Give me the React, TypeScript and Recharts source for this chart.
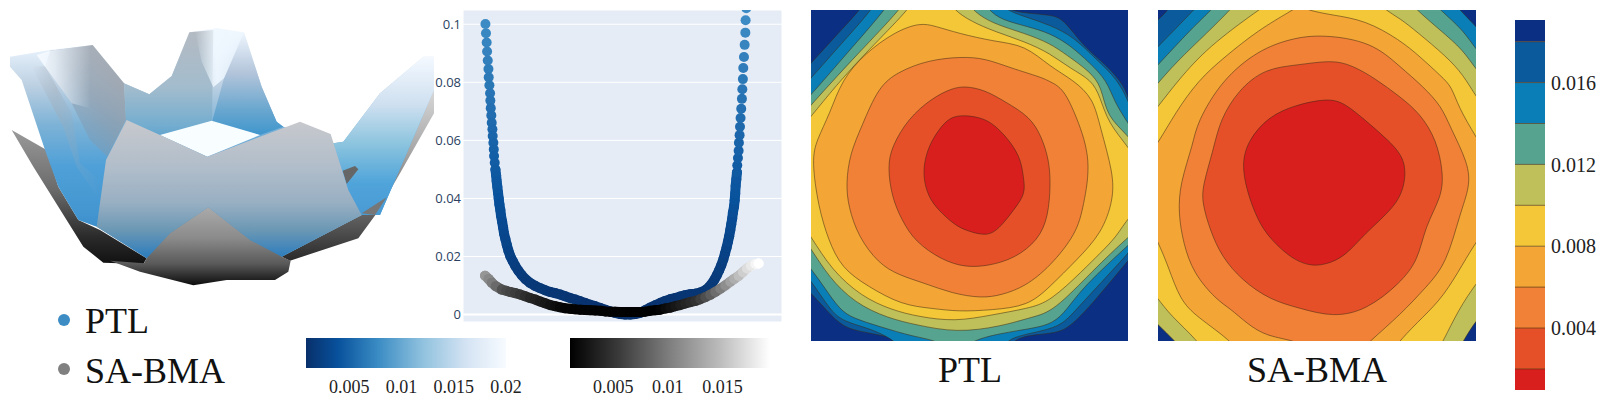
import { Bar, BarChart, CartesianGrid, ReferenceLine, Scatter, ScatterChart, XAxis, YAxis } from 'recharts';

type Pt = [number, number];

// ---- 3d surfaces (unitless view coordinates)
const greyRearLeft: Pt[] = [[35, 390], [140, 450], [175, 560], [235, 660], [300, 690], [440, 775], [430, 792], [310, 788], [250, 740], [175, 620], [100, 500]];
const greyRearRight: Pt[] = [[1302, 270], [1302, 340], [1200, 520], [1130, 640], [1075, 715], [870, 782], [845, 770], [1085, 645], [1140, 600]];
const greyFront: Pt[] = [[625, 622], [750, 720], [845, 770], [872, 782], [865, 815], [825, 840], [680, 840], [580, 856], [420, 815], [330, 782], [432, 790], [440, 775], [510, 700]];
const blueShell: Pt[] = [[30, 170], [150, 150], [278, 135], [372, 250], [448, 283], [515, 228], [568, 97], [650, 85], [732, 97], [785, 260], [830, 365], [850, 380], [1000, 430], [1030, 425], [1140, 280], [1270, 170], [1302, 170], [1302, 270], [1140, 645], [1085, 645], [845, 770], [445, 775], [290, 680], [235, 660], [175, 560], [135, 450], [65, 240], [30, 200]];
const blueWallLeft: Pt[] = [[135, 200], [150, 152], [278, 135], [372, 250], [378, 360], [322, 470], [270, 420], [215, 310]];
const blueGlowLeft: Pt[] = [[110, 165], [150, 152], [278, 135], [290, 330], [215, 310], [135, 200]];
const blueStreak: Pt[] = [[95, 200], [135, 198], [215, 340], [240, 490], [305, 545], [300, 600], [230, 500], [190, 380]];
const blueWallFar: Pt[] = [[372, 250], [448, 283], [515, 228], [568, 97], [640, 90], [636, 365], [480, 405], [330, 470], [378, 360]];
const blueGlowFar: Pt[] = [[585, 94], [650, 85], [732, 97], [700, 170], [672, 235], [640, 262], [605, 185]];
const blueWallRight: Pt[] = [[672, 235], [732, 97], [785, 260], [830, 365], [850, 380], [780, 405], [636, 365]];
const blueWing: Pt[] = [[1030, 425], [1140, 280], [1270, 170], [1302, 170], [1302, 270], [1140, 645], [1085, 645], [1045, 570], [1000, 430]];
const holeTop: Pt[] = [[480, 405], [635, 362], [780, 405], [622, 470]];
const greyPeekA: Pt[] = [[1028, 512], [1065, 498], [1075, 508], [1040, 552]];
const greyPeekB: Pt[] = [[1085, 640], [1160, 592], [1125, 645]];
const frontSheet: Pt[] = [[380, 360], [480, 405], [622, 470], [900, 365], [992, 402], [1045, 570], [1085, 645], [845, 770], [750, 720], [625, 622], [510, 700], [440, 775], [290, 680], [318, 480]];

// ---- slice through the surfaces
const ptlX = [-1.002, -0.998, -0.993, -0.99, -0.985, -0.98, -0.978, -0.973, -0.968, -0.966, -0.963, -0.959, -0.956, -0.951, -0.949, -0.944, -0.941, -0.939, -0.934, -0.929, -0.924, -0.92, -0.915, -0.91, -0.905, -0.9, -0.893, -0.888, -0.88, -0.873, -0.866, -0.856, -0.846, -0.834, -0.82, -0.802, -0.783, -0.761, -0.737, -0.707, -0.676, -0.639, -0.602, -0.566, -0.529, -0.493, -0.456, -0.42, -0.383, -0.346, -0.31, -0.273, -0.237, -0.2, -0.163, -0.127, -0.09, -0.054, -0.017, 0.02, 0.056, 0.093, 0.129, 0.166, 0.202, 0.239, 0.276, 0.312, 0.349, 0.385, 0.422, 0.459, 0.495, 0.532, 0.568, 0.605, 0.629, 0.654, 0.673, 0.69, 0.707, 0.722, 0.737, 0.749, 0.761, 0.771, 0.78, 0.788, 0.795, 0.802, 0.807, 0.815, 0.82, 0.824, 0.827, 0.832, 0.837, 0.839, 0.844, 0.849, 0.851, 0.856, 0.859, 0.863, 0.868, 0.873, 0.876, 0.88, 0.883, 0.888, 0.893, 0.898, 0.9, 0.905];
const ptlY = [0.1001, 0.0969, 0.0937, 0.0906, 0.0875, 0.0846, 0.0817, 0.079, 0.0762, 0.0737, 0.0711, 0.0686, 0.0661, 0.0638, 0.0615, 0.0592, 0.0569, 0.0546, 0.0523, 0.05, 0.048, 0.046, 0.044, 0.042, 0.04, 0.038, 0.036, 0.034, 0.032, 0.03, 0.0279, 0.026, 0.024, 0.022, 0.0201, 0.0184, 0.0167, 0.0151, 0.0136, 0.0121, 0.0109, 0.0099, 0.0091, 0.0084, 0.0078, 0.0074, 0.0069, 0.0063, 0.0057, 0.0052, 0.0046, 0.004, 0.0034, 0.0029, 0.0023, 0.0017, 0.0011, 0.0006, 0.0002, 0, 0, 0.0002, 0.0006, 0.0015, 0.0024, 0.0032, 0.004, 0.0047, 0.0053, 0.0057, 0.0062, 0.0067, 0.007, 0.0072, 0.0076, 0.0084, 0.0093, 0.0107, 0.0121, 0.0136, 0.0153, 0.017, 0.019, 0.021, 0.0231, 0.0251, 0.027, 0.0291, 0.0311, 0.0331, 0.0351, 0.0371, 0.0394, 0.0417, 0.0443, 0.0466, 0.049, 0.0514, 0.0539, 0.0564, 0.0592, 0.0618, 0.0647, 0.0677, 0.0709, 0.0743, 0.0776, 0.0811, 0.0849, 0.0887, 0.0929, 0.0971, 0.1014, 0.1055];
const bmaX = [-1.005, -0.98, -0.956, -0.927, -0.883, -0.851, -0.822, -0.785, -0.749, -0.712, -0.676, -0.639, -0.602, -0.566, -0.529, -0.493, -0.456, -0.42, -0.383, -0.346, -0.31, -0.273, -0.237, -0.2, -0.163, -0.127, -0.09, -0.054, -0.017, 0.02, 0.056, 0.093, 0.129, 0.166, 0.202, 0.239, 0.276, 0.312, 0.349, 0.385, 0.422, 0.459, 0.495, 0.532, 0.568, 0.605, 0.641, 0.678, 0.715, 0.751, 0.788, 0.817, 0.849, 0.88, 0.91, 0.939, 0.971, 0.995];
const bmaY = [0.0134, 0.0123, 0.011, 0.0098, 0.0086, 0.0082, 0.0078, 0.0074, 0.0069, 0.0063, 0.0057, 0.0052, 0.0045, 0.0039, 0.0033, 0.0029, 0.0025, 0.0022, 0.002, 0.0018, 0.0017, 0.0016, 0.0015, 0.0014, 0.0013, 0.0011, 0.001, 0.001, 0.0009, 0.0009, 0.0009, 0.0009, 0.0009, 0.001, 0.0013, 0.0015, 0.0017, 0.0021, 0.0024, 0.0029, 0.0033, 0.0038, 0.0043, 0.0047, 0.0053, 0.006, 0.0068, 0.0078, 0.0089, 0.01, 0.0113, 0.0123, 0.0133, 0.0146, 0.0159, 0.0168, 0.0174, 0.0176];
const sliceYTicks = [0, 0.02, 0.04, 0.06, 0.08, 0.1];
const sliceXTicks = [-1, 0, 1];

// ---- contour outlines, one per level
const ptl018: Pt[] = [[30, 240], [78, 190], [150, 110], [225, 30], [260, -20], [640, -20], [660, 30], [730, 40], [795, 45], [835, 55], [895, 140], [965, 195], [1020, 260], [1030, 300], [1080, 400], [1080, 700], [1050, 760], [1030, 780], [915, 920], [855, 980], [815, 1000], [725, 1005], [685, 1023], [650, 1060], [400, 1060], [375, 1023], [305, 1010], [245, 997], [175, 985], [120, 925], [78, 880], [30, 830]];
const ptl016: Pt[] = [[30, 285], [78, 235], [170, 130], [260, 30], [290, -20], [620, -20], [660, 30], [720, 50], [795, 75], [865, 110], [925, 170], [985, 225], [1020, 280], [1030, 310], [1080, 400], [1080, 700], [1030, 760], [895, 905], [855, 950], [815, 985], [705, 1005], [665, 1023], [640, 1060], [350, 1060], [335, 1023], [255, 985], [175, 965], [135, 930], [78, 840], [30, 790]];
const ptl014: Pt[] = [[30, 335], [78, 285], [190, 155], [300, 30], [330, -20], [580, -20], [610, 30], [650, 60], [730, 80], [795, 100], [855, 135], [915, 190], [965, 240], [990, 310], [1030, 370], [1080, 450], [1080, 690], [1030, 735], [895, 860], [845, 930], [805, 970], [745, 985], [645, 1000], [555, 1023], [530, 1060], [490, 1060], [465, 1023], [385, 1010], [285, 980], [205, 955], [165, 930], [120, 865], [78, 805], [30, 750]];
const ptl012: Pt[] = [[30, 370], [78, 315], [200, 180], [345, 30], [375, -20], [530, -20], [560, 30], [620, 70], [720, 100], [795, 130], [845, 165], [915, 215], [950, 260], [965, 350], [1030, 405], [1080, 480], [1080, 670], [1030, 710], [925, 810], [805, 935], [745, 950], [645, 980], [515, 998], [395, 975], [310, 955], [210, 910], [130, 830], [78, 745], [30, 680]];
const ptl010: Pt[] = [[30, 405], [78, 350], [150, 260], [250, 150], [370, 30], [400, -20], [480, -20], [505, 30], [560, 65], [630, 95], [720, 125], [795, 160], [855, 205], [920, 240], [945, 290], [970, 370], [1030, 440], [1080, 520], [1080, 610], [1030, 650], [995, 710], [945, 760], [895, 810], [795, 905], [730, 925], [620, 945], [510, 965], [400, 950], [320, 930], [230, 890], [140, 810], [78, 710], [30, 640]];
const ptl008: Pt[] = [[405, 68], [450, 78], [520, 100], [630, 125], [720, 135], [795, 200], [865, 240], [925, 295], [945, 380], [985, 520], [985, 600], [950, 700], [875, 780], [795, 860], [730, 918], [620, 930], [520, 935], [440, 925], [350, 915], [250, 860], [170, 805], [130, 720], [100, 620], [80, 480], [95, 420], [135, 340], [170, 240], [240, 160], [330, 95]];
const ptl006: Pt[] = [[530, 170], [600, 175], [680, 205], [770, 232], [795, 245], [835, 265], [875, 350], [920, 480], [895, 620], [875, 700], [795, 800], [720, 860], [650, 885], [590, 895], [500, 880], [420, 850], [340, 825], [280, 790], [220, 710], [190, 620], [183, 550], [195, 460], [230, 380], [280, 260], [340, 215], [430, 180]];
const ptl004: Pt[] = [[540, 258], [600, 270], [660, 305], [735, 350], [770, 410], [792, 480], [797, 550], [790, 650], [760, 720], [690, 775], [610, 798], [540, 802], [470, 780], [390, 725], [350, 660], [320, 590], [308, 500], [320, 440], [370, 355], [440, 295], [500, 265]];
const ptl002: Pt[] = [[495, 350], [540, 345], [600, 355], [640, 385], [680, 430], [708, 480], [715, 530], [722, 580], [690, 625], [640, 690], [605, 707], [560, 697], [515, 680], [470, 640], [435, 600], [418, 550], [415, 500], [430, 440], [460, 390]];

const bma018: Pt[] = [[60, 95], [99, 60], [130, 30], [160, -20], [1120, -20], [1120, 1080], [40, 1080], [40, 95]];
const bma016: Pt[] = [[50, 190], [99, 140], [207, 30], [250, -20], [960, -20], [1005, 30], [1053, 80], [1110, 140], [1110, 1080], [40, 1080], [40, 200]];
const bma014: Pt[] = [[50, 245], [99, 195], [200, 85], [260, 30], [300, -20], [900, -20], [945, 30], [1015, 90], [1053, 150], [1110, 210], [1110, 1080], [40, 1080], [40, 255]];
const bma012: Pt[] = [[50, 305], [99, 250], [150, 190], [250, 95], [315, 30], [360, -20], [830, -20], [875, 30], [945, 90], [1015, 150], [1053, 210], [1110, 270], [1110, 900], [1053, 960], [1015, 1023], [985, 1075], [195, 1075], [150, 1023], [100, 975], [50, 925]];
const bma010: Pt[] = [[50, 380], [99, 320], [160, 240], [250, 140], [400, 30], [460, -10], [740, -10], [780, 30], [825, 55], [875, 95], [965, 170], [1015, 225], [1053, 290], [1110, 370], [1110, 780], [1053, 850], [1000, 930], [955, 1023], [925, 1075], [250, 1075], [220, 1023], [135, 945], [99, 895], [50, 840]];
const bma008: Pt[] = [[60, 480], [99, 430], [150, 340], [220, 240], [300, 170], [400, 90], [500, 32], [525, 15], [545, 30], [620, 45], [720, 60], [825, 120], [885, 170], [950, 230], [980, 260], [1000, 320], [1053, 412], [1110, 500], [1110, 650], [1053, 725], [1015, 790], [955, 890], [895, 950], [825, 1020], [790, 1070], [350, 1070], [320, 1023], [215, 950], [165, 900], [130, 800], [99, 725], [60, 650]];
const bma006: Pt[] = [[590, 103], [740, 125], [825, 200], [895, 260], [950, 320], [975, 380], [1030, 490], [1035, 560], [1005, 640], [965, 790], [905, 860], [825, 945], [735, 1023], [700, 1060], [560, 1060], [525, 1023], [425, 1010], [365, 970], [315, 925], [275, 900], [205, 820], [175, 730], [160, 640], [165, 550], [205, 430], [215, 370], [290, 240], [400, 150], [500, 115]];
const bma004: Pt[] = [[620, 180], [680, 195], [750, 235], [825, 290], [885, 340], [935, 420], [955, 520], [950, 590], [900, 680], [880, 780], [825, 850], [725, 930], [625, 952], [525, 925], [435, 900], [350, 840], [290, 770], [255, 690], [232, 610], [232, 560], [265, 450], [285, 360], [340, 270], [420, 205], [520, 195]];
const bma002: Pt[] = [[610, 294], [660, 310], [720, 360], [790, 420], [845, 480], [838, 570], [800, 630], [720, 700], [660, 770], [600, 795], [550, 798], [490, 770], [420, 700], [390, 640], [365, 570], [350, 490], [370, 420], [430, 350], [510, 315]];

const levelColors = ['#0b5a9c', '#0a7eb6', '#56a48f', '#bfc059', '#f3c738', '#f3a536', '#f18136', '#e55029', '#d91e1e'];
const navy = '#0b2f83';
const ptlLevels = [ptl018, ptl016, ptl014, ptl012, ptl010, ptl008, ptl006, ptl004, ptl002];
const bmaLevels = [bma018, bma016, bma014, bma012, bma010, bma008, bma006, bma004, bma002];

// ---- colour bars
const blueTicks = [0.005, 0.01, 0.015, 0.02];
const greyTicks = [0.005, 0.01, 0.015];
const contourTicks = [0.004, 0.008, 0.012, 0.016];
const contourBands = [0.002, 0.002, 0.002, 0.002, 0.002, 0.002, 0.002, 0.002, 0.002, 0.00106];
const contourBandColors = ['#d91e1e', '#e55029', '#f18136', '#f3a536', '#f3c738', '#bfc059', '#56a48f', '#0a7eb6', '#0b5a9c', navy];
const contourLines = [0.002, 0.004, 0.006, 0.008, 0.01, 0.012, 0.014, 0.016, 0.018];

const serif = '"Liberation Serif", serif';
const toPoints = (pts: Pt[]) => pts.map(([x, y]) => ({ x, y }));

const mix = (stops: [number, number[]][], v: number) => {
  let i = 0;
  while (i < stops.length - 2 && v > stops[i + 1][0]) i++;
  const [a, ca] = stops[i];
  const [b, cb] = stops[i + 1];
  const t = Math.min(1, Math.max(0, (v - a) / (b - a)));
  return `rgb(${ca.map((c, k) => Math.round(c + (cb[k] - c) * t)).join(',')})`;
};
// blue goes with the height of the point, grey with its place along the slice
const blueRamp: [number, number[]][] = [[0, [8, 48, 107]], [0.04, [8, 81, 156]], [0.1, [61, 139, 196]]];
const greyRamp: [number, number[]][] = [[-1.005, [150, 150, 150]], [-0.88, [80, 80, 80]], [-0.68, [40, 40, 40]], [-0.43, [5, 5, 5]], [0.25, [0, 0, 0]], [0.54, [50, 50, 50]], [0.74, [136, 136, 136]], [0.91, [221, 221, 221]], [0.995, [255, 255, 255]]];

const BlueDot = (props: any) => <circle cx={props.cx} cy={props.cy} r={5} fill={mix(blueRamp, props.payload.y)} />;
const GreyDot = (props: any) => <circle cx={props.cx} cy={props.cy} r={5} fill={mix(greyRamp, props.payload.x)} />;
const NoDot = () => <g />;

const stopsFor = (id: string, stops: [number, string][], dir = 'v') => {
  const ends: any = {
    v: { x1: 0, y1: 0, x2: 0, y2: 1 },
    h: { x1: 0, y1: 0, x2: 1, y2: 0 },
    d: { x1: 1, y1: 0, x2: 0, y2: 1 },
  };
  return (
    <linearGradient key={id} id={id} {...ends[dir]}>
      {stops.map(([o, c]) => <stop key={o} offset={o} stopColor={c} />)}
    </linearGradient>
  );
};

function PolyChart({ left, top, width, height, xDomain, yDomain, defs, layers }: any) {
  return (
    <div style={{ position: 'absolute', left, top, width, height }}>
      <ScatterChart width={width} height={height} margin={{ top: 0, right: 0, bottom: 0, left: 0 }}>
        {defs && <defs>{defs}</defs>}
        <XAxis type="number" dataKey="x" domain={xDomain} allowDataOverflow hide />
        <YAxis type="number" dataKey="y" domain={yDomain} reversed allowDataOverflow hide />
        {layers.map((l: any, i: number) => (
          <Scatter
            key={i}
            data={toPoints(l.pts)}
            shape={NoDot}
            lineJointType={l.curve}
            line={{ fill: l.fill, stroke: l.stroke ?? 'none', strokeWidth: l.sw ?? 0 }}
            isAnimationActive={false}
          />
        ))}
      </ScatterChart>
    </div>
  );
}

function contourLayers(levels: Pt[][]) {
  return levels.map((pts, i) => ({
    pts,
    curve: 'basisClosed',
    fill: levelColors[i],
    stroke: 'rgba(60,40,20,0.65)',
    sw: 0.8,
  }));
}

const surfaceDefs = [
  stopsFor('gRear', [[0, '#9a9a9a'], [0.45, '#6a6a6a'], [0.8, '#2a2a2a'], [1, '#111']]),
  stopsFor('gRearR', [[0, '#d8d8d8'], [0.4, '#a0a0a0'], [0.8, '#555'], [1, '#2a2a2a']]),
  stopsFor('gFront', [[0, '#aaaaaa'], [0.4, '#8a8a8a'], [0.72, '#5a5a5a'], [1, '#0c0c0c']]),
  stopsFor('bShell', [[0, '#f2f9ff'], [0.1, '#e4effa'], [0.25, '#bcd0e2'], [0.42, '#7db2d6'], [0.6, '#4fa0d8'], [0.8, '#4396d0'], [1, '#2c7fbf']]),
  stopsFor('bWallL', [[0, 'rgba(165,165,170,0.95)'], [0.45, 'rgba(140,155,170,0.7)'], [0.8, 'rgba(120,150,175,0.2)'], [1, 'rgba(120,150,175,0)']], 'd'),
  stopsFor('bGlowL', [[0, 'rgba(244,249,255,1)'], [0.3, 'rgba(244,249,255,0.75)'], [0.9, 'rgba(244,249,255,0)']], 'h'),
  stopsFor('bStreak', [[0, 'rgba(160,165,175,0)'], [0.35, 'rgba(160,170,180,0.4)'], [1, 'rgba(130,170,200,0)']], 'h'),
  stopsFor('bWallF', [[0, '#b4bac2'], [0.45, '#a3bccd'], [0.75, '#74adcf'], [1, '#3f95ce']]),
  stopsFor('bGlow', [[0, 'rgba(240,248,255,0)'], [0.45, 'rgba(240,248,255,0.9)'], [0.75, 'rgba(240,248,255,0.6)'], [1, 'rgba(240,248,255,0)']], 'h'),
  stopsFor('bWallR', [[0, '#eef6fe'], [0.4, '#b2c4da'], [0.75, '#6aa7cf'], [1, '#3f96cd']]),
  stopsFor('bWing', [[0, '#f4f9ff'], [0.3, '#cfe0f0'], [0.55, '#8cc4de'], [0.8, '#4fa4da'], [1, '#4a9ad4']]),
  stopsFor('bFront', [[0, '#c8c9cd'], [0.35, '#b0bdca'], [0.6, '#98afc2'], [0.8, '#6a97b4'], [1, '#2a7cbe']]),
];

const surfaceLayers = [
  { pts: greyRearLeft, curve: 'linearClosed', fill: 'url(#gRear)' },
  { pts: greyRearRight, curve: 'linearClosed', fill: 'url(#gRearR)' },
  { pts: blueShell, curve: 'linearClosed', fill: 'url(#bShell)' },
  { pts: blueStreak, curve: 'linearClosed', fill: 'url(#bStreak)' },
  { pts: blueWallLeft, curve: 'linearClosed', fill: 'url(#bWallL)' },
  { pts: blueGlowLeft, curve: 'linearClosed', fill: 'url(#bGlowL)' },
  { pts: blueWallFar, curve: 'linearClosed', fill: 'url(#bWallF)' },
  { pts: blueWallRight, curve: 'linearClosed', fill: 'url(#bWallR)' },
  { pts: blueGlowFar, curve: 'linearClosed', fill: 'url(#bGlow)' },
  { pts: blueWing, curve: 'linearClosed', fill: 'url(#bWing)' },
  { pts: holeTop, curve: 'linearClosed', fill: '#f8fdff' },
  { pts: greyPeekA, curve: 'linearClosed', fill: '#666' },
  { pts: greyPeekB, curve: 'linearClosed', fill: '#777' },
  { pts: frontSheet, curve: 'linearClosed', fill: 'url(#bFront)' },
  { pts: greyFront, curve: 'linearClosed', fill: 'url(#gFront)' },
];

function SliceChart() {
  const ptlData = ptlX.map((x, i) => ({ x, y: ptlY[i] }));
  const bmaData = bmaX.map((x, i) => ({ x, y: bmaY[i] }));
  // the low part of the blue curve is packed with points, joined up under the dots
  const ptlLow = ptlData.slice(19, 97);
  const span = bmaX[bmaX.length - 1] - bmaX[0];
  return (
    <div style={{ position: 'absolute', left: 430, top: 10, width: 352, height: 312 }}>
      <ScatterChart width={352} height={312} margin={{ top: 0, right: 0, bottom: 0, left: 0 }}>
        <defs>
          {stopsFor('blueBand', [[0, mix(blueRamp, 0.05)], [0.2, mix(blueRamp, 0.04)], [1, mix(blueRamp, 0)]])}
          <linearGradient id="greyBand" x1="0" y1="0" x2="1" y2="0">
            {greyRamp.map(([v]) => (
              <stop key={v} offset={(v - bmaX[0]) / span} stopColor={mix(greyRamp, v)} />
            ))}
          </linearGradient>
        </defs>
        <CartesianGrid fill="#e5ecf6" stroke="#ffffff" strokeWidth={1} />
        <XAxis type="number" dataKey="x" domain={[-1.166, 1.166]} ticks={sliceXTicks} allowDataOverflow tick={false} tickLine={false} axisLine={false} height={0} />
        <YAxis
          type="number"
          dataKey="y"
          domain={[-0.00255, 0.1049]}
          ticks={sliceYTicks}
          interval={0}
          allowDataOverflow
          width={33}
          tickLine={false}
          axisLine={false}
          tickSize={0}
          tickMargin={2}
          tick={{ fontSize: 13, fontFamily: '"Open Sans", sans-serif', fill: '#2a3f5f' }}
        />
        <ReferenceLine y={0} stroke="#ffffff" strokeWidth={2} />
        <Scatter data={ptlLow} shape={NoDot} line={{ stroke: 'url(#blueBand)', strokeWidth: 10, strokeLinejoin: 'round', strokeLinecap: 'round' }} isAnimationActive={false} />
        <Scatter data={ptlData} shape={BlueDot} isAnimationActive={false} />
        <Scatter data={bmaData} shape={NoDot} line={{ stroke: 'url(#greyBand)', strokeWidth: 10, strokeLinejoin: 'round', strokeLinecap: 'round' }} isAnimationActive={false} />
        <Scatter data={bmaData} shape={GreyDot} isAnimationActive={false} />
      </ScatterChart>
    </div>
  );
}

function GradientBar({ left, id, stops, domain, ticks }: any) {
  return (
    <div style={{ position: 'absolute', left: left - 16, top: 338, width: 240, height: 62 }}>
      <BarChart width={240} height={62} layout="vertical" data={[{ name: 'scale', range: domain }]} barCategoryGap={0} margin={{ top: 0, right: 24, bottom: 0, left: 16 }}>
        <defs>{stopsFor(id, stops, 'h')}</defs>
        <XAxis
          type="number"
          domain={domain}
          ticks={ticks}
          allowDataOverflow
          height={32}
          tickLine={false}
          axisLine={false}
          tickMargin={6}
          interval={0}
          tick={{ fontSize: 18, fontFamily: serif, fill: '#222' }}
        />
        <YAxis type="category" dataKey="name" hide />
        <Bar dataKey="range" fill={`url(#${id})`} isAnimationActive={false} />
      </BarChart>
    </div>
  );
}

function ContourBar() {
  const row: any = { name: 'levels' };
  contourBands.forEach((v, i) => (row[`b${i}`] = v));
  return (
    <div style={{ position: 'absolute', left: 1500, top: 20, width: 100, height: 370 }}>
      <BarChart width={100} height={370} data={[row]} barCategoryGap={0} margin={{ top: 0, right: 0, bottom: 0, left: 15 }}>
        <XAxis dataKey="name" hide />
        <YAxis
          orientation="right"
          type="number"
          domain={[0.00097, 0.01906]}
          ticks={contourTicks}
          allowDataOverflow
          width={55}
          tickLine={false}
          axisLine={false}
          tickSize={0}
          tickMargin={6}
          interval={0}
          tickFormatter={(v: number) => v.toFixed(3)}
          tick={{ fontSize: 20, fontFamily: serif, fill: '#222' }}
        />
        {contourBands.map((_, i) => (
          <Bar key={i} dataKey={`b${i}`} stackId="levels" fill={contourBandColors[i]} isAnimationActive={false} />
        ))}
        {contourLines.map((v) => (
          <ReferenceLine key={v} y={v} stroke="rgba(90,60,20,0.7)" strokeWidth={1} />
        ))}
      </BarChart>
    </div>
  );
}

function Caption({ x, baseline, children, center }: any) {
  return (
    <div
      style={{
        position: 'absolute',
        left: center ? x - 100 : x,
        width: center ? 200 : undefined,
        top: baseline - 30,
        fontFamily: serif,
        fontSize: 36,
        lineHeight: '36px',
        color: '#111',
        textAlign: center ? 'center' : 'left',
        whiteSpace: 'nowrap',
      }}
    >
      {children}
    </div>
  );
}

function LegendDot({ y, color }: any) {
  return <div style={{ position: 'absolute', left: 58, top: y - 6, width: 12, height: 12, borderRadius: 6, background: color }} />;
}

export default function App() {
  return (
    <div style={{ position: 'absolute', left: 0, top: 0, width: 1600, height: 400, overflow: 'hidden', background: '#fff' }}>
      <SliceChart />
      <PolyChart left={0} top={0} width={434} height={300} xDomain={[0, 1302]} yDomain={[0, 900]} defs={surfaceDefs} layers={surfaceLayers} />

      <LegendDot y={320} color="#3d8cc4" />
      <Caption x={85} baseline={333}>PTL</Caption>
      <LegendDot y={369} color="#808080" />
      <Caption x={85} baseline={383}>SA-BMA</Caption>

      <GradientBar
        left={306}
        id="blueBar"
        domain={[0.00086, 0.02]}
        ticks={blueTicks}
        stops={[[0, '#08306b'], [0.16, '#08519c'], [0.36, '#3a8cc4'], [0.58, '#8fc1de'], [0.8, '#d4e3f3'], [1, '#f7fbff']]}
      />
      <GradientBar
        left={570}
        id="greyBar"
        domain={[0.00105, 0.01934]}
        ticks={greyTicks}
        stops={[[0, '#000000'], [0.25, '#3c3c3c'], [0.5, '#7f7f7f'], [0.75, '#bcbcbc'], [1, '#ffffff']]}
      />

      <div style={{ position: 'absolute', left: 811, top: 10, width: 317, height: 331, background: navy }} />
      <PolyChart left={811} top={10} width={317} height={331} xDomain={[78, 1029]} yDomain={[30, 1023]} layers={contourLayers(ptlLevels)} />
      <div style={{ position: 'absolute', left: 1158, top: 10, width: 318, height: 331, background: navy }} />
      <PolyChart left={1158} top={10} width={318} height={331} xDomain={[99, 1053]} yDomain={[30, 1023]} layers={contourLayers(bmaLevels)} />
      <Caption x={970} baseline={382} center>PTL</Caption>
      <Caption x={1317} baseline={382} center>SA-BMA</Caption>

      <ContourBar />
    </div>
  );
}
